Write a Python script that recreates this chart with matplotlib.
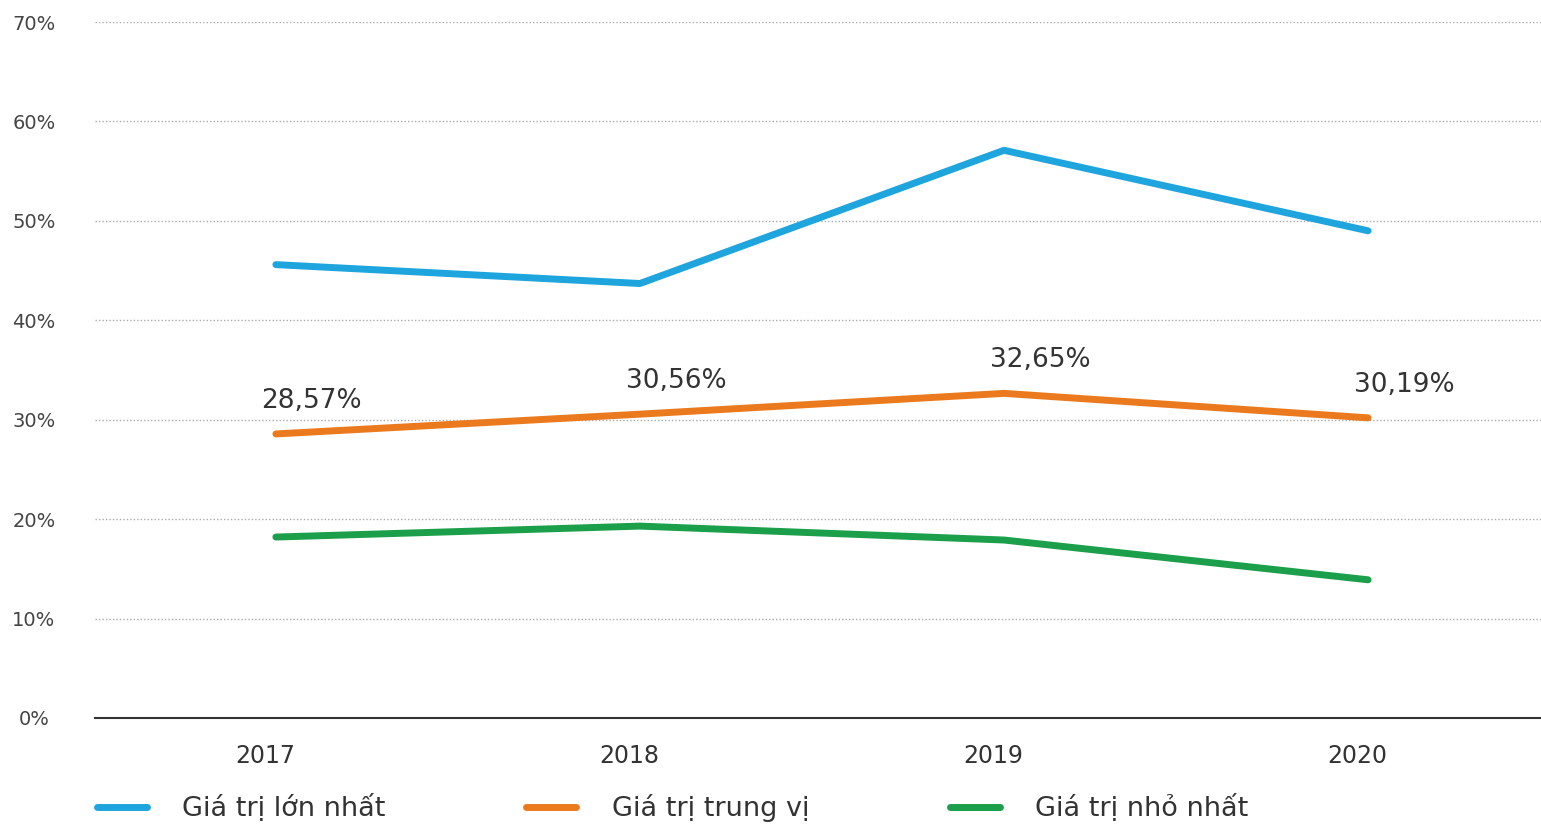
import matplotlib.pyplot as plt
from matplotlib.transforms import ScaledTranslation

# data
years = ["2017", "2018", "2019", "2020"]
max_vals = [45.6, 43.7, 57.1, 49.0]   # Giá trị lớn nhất
med_vals = [28.57, 30.56, 32.65, 30.19]  # Giá trị trung vị
min_vals = [18.2, 19.3, 17.9, 13.9]   # Giá trị nhỏ nhất
med_labels = ["28,57%", "30,56%", "32,65%", "30,19%"]
y_ticks = [0, 10, 20, 30, 40, 50, 60, 70]

plt.rcParams['font.family'] = ['DejaVu Sans Condensed', 'DejaVu Sans']

fig = plt.figure(figsize=(15.41, 8.25), dpi=100)
ax = fig.add_axes([0.0616, 0.1297, 0.9384, 0.8436])

x = list(range(len(years)))
lw = 5
ax.plot(x, max_vals, color="#1ea5dd", lw=lw, solid_capstyle="round", label="Giá trị lớn nhất")
ax.plot(x, med_vals, color="#eb7a1f", lw=lw, solid_capstyle="round", label="Giá trị trung vị")
ax.plot(x, min_vals, color="#1b9f4a", lw=lw, solid_capstyle="round", label="Giá trị nhỏ nhất")

# labels on the median line
for xi, v, t in zip(x, med_vals, med_labels):
    ax.annotate(t, (xi, v), xytext=(36, 20), textcoords="offset pixels",
                ha="center", va="bottom", fontsize=19, color="#333333")

ax.set_xlim(-0.497, 3.475)
ax.set_ylim(0, 70)
ax.set_xticks(x)
ax.set_xticklabels(years, fontsize=17, color="#333333")
ax.set_yticks(y_ticks)
ax.set_yticklabels([f"{v}%" for v in y_ticks], fontsize=14, color="#444444")
ax.tick_params(length=0)
ax.tick_params(axis="x", pad=19)
ax.tick_params(axis="y", pad=44)
for lbl in ax.get_yticklabels():
    lbl.set_horizontalalignment("center")
shift = ScaledTranslation(-11 / 100, 0, fig.dpi_scale_trans)
for lbl in ax.get_xticklabels():
    lbl.set_transform(lbl.get_transform() + shift)

ax.grid(axis="y", linestyle=(0, (1, 1.5)), color="#aaaaaa", lw=1)
ax.set_axisbelow(True)
for s in ["top", "right", "left"]:
    ax.spines[s].set_visible(False)
ax.spines["bottom"].set_color("#333333")
ax.spines["bottom"].set_linewidth(1.5)

fig.legend(loc="lower left", bbox_to_anchor=(0.047, -0.026), ncol=3, frameon=False,
           fontsize=19.5, handlelength=1.85, handletextpad=1.3, columnspacing=5.2,
           labelcolor="#333333")

fig.savefig("out.png", dpi=100, facecolor="white")
